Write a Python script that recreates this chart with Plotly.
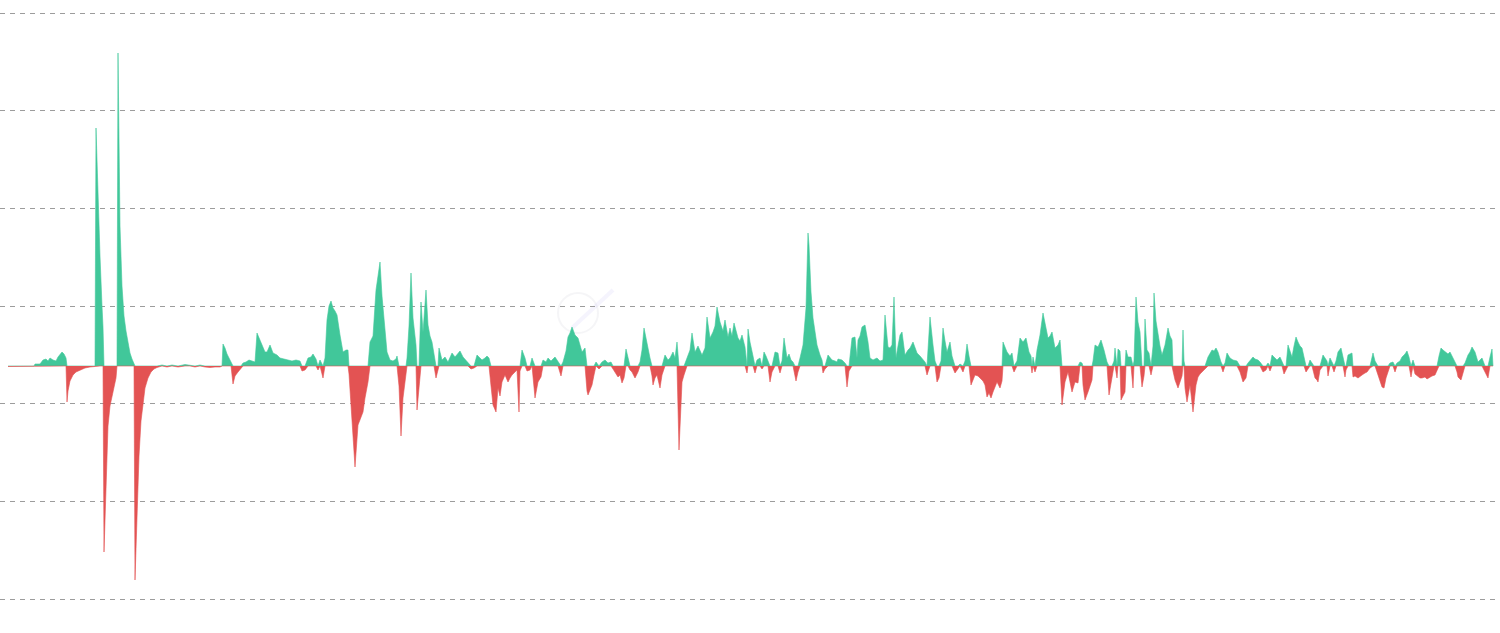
import numpy as np
import plotly.graph_objects as go

# Day index (time axis) and net value
days = [8,34,35,40,43,46,48,50,53,56,58,60,62,64,66,67,68,70,73,76,80,85,90,94,95,
96,98,100,102,103,104,106,108,110,112,114,116,117,118,119,120,122,124,126,128,130,132,134,
135,137,139,141,143,145,148,151,154,157,162,167,172,178,185,190,195,200,205,210,215,220,222,
223,225,227,229,231,233,235,238,241,243,246,249,252,255,257,260,263,265,267,270,273,277,280,
284,288,292,296,300,302,305,308,311,313,316,318,320,323,325,327,329,331,333,335,337,340,343,
346,348,349,352,355,358,361,363,365,368,370,373,376,378,380,382,383,385,387,390,393,396,397,
399,401,403,406,407,409,411,413,416,417,419,421,423,426,428,430,432,434,436,438,439,442,445,
448,452,455,458,460,463,466,468,471,474,477,480,482,485,487,489,491,493,496,498,500,502,505,
508,510,512,515,517,519,520,522,525,527,530,532,535,538,541,543,546,548,551,555,558,561,563,
566,568,570,572,575,578,580,582,585,587,588,590,592,594,596,599,602,605,608,611,613,615,618,
620,622,624,626,628,630,632,635,638,640,642,644,647,650,652,653,655,657,660,662,665,668,670,
673,675,677,679,680,682,684,687,690,692,695,698,700,702,705,707,710,713,715,717,720,723,725,
728,730,732,734,736,738,740,742,745,747,748,750,753,755,757,760,762,764,766,768,770,772,775,
778,780,782,784,787,789,791,793,795,796,798,800,803,806,807,808,809,811,813,815,817,820,822,
823,825,828,832,835,837,838,842,845,847,849,852,855,857,858,860,862,865,868,870,873,877,880,
883,885,888,890,892,894,896,898,900,902,905,908,910,913,917,920,922,925,927,930,933,935,937,
939,941,943,945,947,950,952,955,958,960,963,965,967,969,971,973,975,978,980,983,985,987,989,
991,993,995,997,1000,1002,1003,1005,1007,1010,1012,1014,1017,1020,1023,1026,1029,1031,1032,
1033,1035,1037,1040,1043,1045,1048,1050,1052,1055,1058,1060,1062,1065,1068,1070,1072,1075,
1078,1080,1082,1083,1085,1088,1090,1092,1093,1095,1098,1101,1104,1107,1109,1112,1114,1115,
1117,1118,1120,1121,1123,1125,1126,1128,1131,1133,1134,1136,1138,1140,1142,1144,1145,1147,
1149,1151,1153,1154,1156,1157,1158,1160,1162,1165,1168,1170,1172,1173,1175,1178,1180,1182,
1183,1184,1185,1187,1190,1192,1193,1196,1198,1200,1202,1205,1208,1210,1212,1214,1216,1218,
1221,1223,1225,1227,1230,1233,1237,1240,1243,1246,1248,1250,1253,1255,1258,1260,1263,1266,
1268,1270,1272,1275,1277,1280,1282,1284,1286,1288,1290,1292,1294,1296,1298,1300,1302,1304,
1306,1308,1310,1312,1314,1315,1317,1318,1320,1323,1325,1327,1328,1330,1332,1334,1336,1338,
1341,1343,1345,1346,1348,1352,1353,1355,1358,1360,1362,1365,1367,1370,1373,1375,1378,1380,
1382,1384,1386,1388,1390,1393,1395,1397,1400,1402,1405,1407,1409,1411,1413,1415,1418,1420,
1422,1425,1427,1430,1432,1435,1437,1439,1441,1443,1445,1448,1450,1453,1455,1457,1458,1461,
1463,1465,1468,1470,1472,1475,1478,1480,1482,1485,1488,1490,1492,1493]

values = [-0.5,-0.5,2,2,6,7,5,8,6,5,9,12,14,12,8,-36,-25,-15,-9,-6,-4,-2,-1,-0.5,0,
238,170,110,60,39,-186,-120,-60,-40,-30,-20,-12,0,313,200,140,80,50,35,22,13,7,3,
-214,-150,-90,-55,-35,-22,-12,-6,-3,-1.5,1,-1,1,-1,1.5,1,-1,1,-1,-1.5,-1,-1,0,
22,18,12,8,5,-18,-10,-6,-3,3,4,6,5,4,33,26,18,14,14,21,13,11,8,
7,6,5,6,5,-5,-4,8,9,12,7,-4,6,-12,8,46,60,65,58,55,51,31,14,
16,16,-8,-60,-101,-59,-50,-46,-32,-16,24,30,76,90,104,70,58,30,14,6,5,7,10,
-20,-70,-32,-9,8,40,93,48,21,-44,-20,64,34,76,41,30,24,13,-12,-5,18,6,9,
4,13,9,12,15,9,6,4,-3,-2,11,8,6,8,10,8,-20,-39,-46,-22,-30,-16,-9,
-16,-12,-9,-6,-4,-46,-5,16,8,-5,-4,8,-32,-16,-11,6,4,8,5,9,4,-10,4,
15,29,33,39,31,28,20,14,18,-25,-29,-24,-19,-9,4,-3,4,6,3,4,-3,-6,-11,
-9,-17,-12,17,8,-4,-6,-12,-6,4,16,38,21,8,-10,-19,-12,-9,-22,-9,11,6,8,
14,8,24,-84,-60,-16,-9,8,16,33,14,20,15,11,18,49,28,34,40,59,44,35,46,
29,38,30,43,35,28,25,31,19,-7,37,24,10,-7,6,8,-3,14,10,5,-16,-6,14,
13,-7,5,28,8,12,6,4,-10,-15,-6,8,21,58,100,133,121,74,48,35,21,11,6,
-7,-3,11,6,5,4,7,6,3,-21,-5,28,29,8,26,30,39,41,24,8,6,8,5,
6,51,19,18,21,69,8,20,31,34,11,16,18,24,13,10,8,4,-9,49,21,5,-16,
-12,5,38,25,14,24,10,-7,-3,2,-6,5,22,10,-19,-14,-9,-10,-12,-15,-19,-31,-27,
-32,-26,-20,-16,-22,-15,24,18,14,10,13,-6,5,28,24,28,14,10,-7,
9,-6,16,31,53,44,28,30,34,18,21,26,-39,-16,-6,-15,-26,-16,
-17,4,3,-19,-34,-26,-20,-14,5,21,19,26,16,4,-29,-9,5,18,
-12,17,15,-34,-30,-26,16,9,9,-22,5,69,44,34,-21,-10,47,16,
13,-9,20,73,45,38,31,20,11,21,38,30,26,-5,-14,-22,-16,-10,
36,5,-22,-36,-19,-39,-46,-19,-11,-8,-6,-2,9,12,16,15,18,14,
4,-6,3,13,8,6,5,-6,-16,-12,3,5,9,7,6,4,-6,-4,
3,-5,11,8,6,9,5,-8,-3,21,15,9,20,29,24,20,18,8,
-6,-3,6,3,-8,-12,-14,-16,-4,11,8,5,-10,8,4,-6,5,14,
18,8,-11,-4,11,13,-11,-10,-12,-10,-9,-7,-6,-2,13,5,-9,-15,
-21,-22,-12,-6,3,4,-6,3,5,9,12,15,9,-11,6,-8,-11,-12,
-12,-11,-13,-11,-10,-9,-5,10,18,16,14,12,14,8,3,-6,-11,-14,
-6,3,11,14,19,14,4,6,8,-6,-12,9,17,0]

GREEN = "#41C79A"
RED = "#E35353"
GRID = "#9c9c9c"

v = np.array(values, dtype=float)
pos = np.clip(v, 0, None)
neg = np.clip(v, None, 0)

fig = go.Figure()

# invisible reference axis that carries the dashed grid
fig.add_trace(go.Scatter(x=[days[0], days[-1]], y=[None, None], yaxis="y",
                         showlegend=False, hoverinfo="skip"))

fig.add_trace(go.Scatter(x=days, y=pos, yaxis="y2", mode="lines",
                         line=dict(color=GREEN, width=0.6), fill="tozeroy",
                         fillcolor=GREEN, name="Inflow", showlegend=False))
fig.add_trace(go.Scatter(x=days, y=neg, yaxis="y2", mode="lines",
                         line=dict(color=RED, width=0.6), fill="tozeroy",
                         fillcolor=RED, name="Outflow", showlegend=False))

# faint watermark
fig.add_shape(type="circle", xref="x", yref="y2", x0=558, x1=598, y0=33, y1=73,
              line=dict(color="rgba(200,200,210,0.18)", width=2), layer="below")
fig.add_shape(type="line", xref="x", yref="y2", x0=572, y0=38, x1=613, y1=76,
              line=dict(color="rgba(190,180,240,0.15)", width=4), layer="below")

fig.update_layout(
    width=1500, height=633,
    margin=dict(l=0, r=0, t=10, b=31),
    paper_bgcolor="white", plot_bgcolor="white",
    showlegend=False,
    xaxis=dict(range=[0, 1500], showgrid=False, zeroline=False,
               showticklabels=False, ticks="", showline=False),
    yaxis=dict(range=[-0.0307, 6.0307], dtick=1, tick0=0, showgrid=True,
               gridcolor=GRID, gridwidth=1, griddash="5px,5px",
               zeroline=False, showticklabels=False, ticks="", showline=False),
    yaxis2=dict(range=[-236, 356], overlaying="y", showgrid=False,
                zeroline=False, showticklabels=False, ticks="", showline=False),
)

fig.write_html("out.html", config={"displayModeBar": False},
               post_script="document.body.style.margin='0';document.body.style.overflow='hidden';")
